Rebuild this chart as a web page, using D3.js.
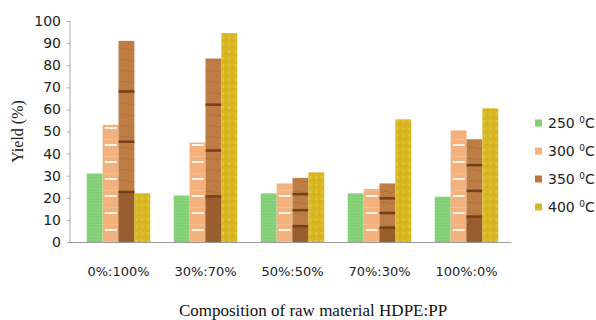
<!DOCTYPE html>
<html>
<head>
<meta charset="utf-8">
<script src="https://cdn.jsdelivr.net/npm/d3@7"></script>
<style>
    body { margin: 0; background: #fff; }
    svg { display: block; }
</style>
</head>
<body>
<div id="chart"></div>
<script>

//******************************************************************************
//**  Data
//******************************************************************************
var categories = ["0%:100%", "30%:70%", "50%:50%", "70%:30%", "100%:0%"];
var series = ["250", "300", "350", "400"];
var yield250 = [31, 21, 22, 22, 20.5];
var yield300 = [53, 45, 26.5, 24, 50.5];
var yield350 = [91, 83, 29, 26.5, 46.5];
var yield400 = [22, 94.5, 31.5, 55.5, 60.5];
var yTicks = [0, 10, 20, 30, 40, 50, 60, 70, 80, 90, 100];

var values = [yield250, yield300, yield350, yield400];


//******************************************************************************
//**  Chart
//******************************************************************************
var width = 596, height = 320;
var margin = {top: 21, right: 86, bottom: 78, left: 75};
var colors = {
    "250": "#82cf76",
    "300": "#f3b27d",
    "350": "#b9773f",
    "400": "#d8b722"
};

var svg = d3.select("#chart").append("svg")
    .attr("width", width)
    .attr("height", height);

var defs = svg.append("defs");

//Green: faint horizontal lines
var pGreen = defs.append("pattern")
    .attr("id", "p250").attr("patternUnits", "userSpaceOnUse")
    .attr("width", 8).attr("height", 3);
pGreen.append("rect").attr("width", 8).attr("height", 3).attr("fill", colors["250"]);
pGreen.append("rect").attr("y", 2).attr("width", 8).attr("height", 1).attr("fill", "#8bd580");

//Peach: white dashes
var pPeach = defs.append("pattern")
    .attr("id", "p300").attr("patternUnits", "userSpaceOnUse")
    .attr("width", 16).attr("height", 17);
pPeach.append("rect").attr("width", 16).attr("height", 17).attr("fill", colors["300"]);
pPeach.append("rect").attr("x", 2).attr("y", 8).attr("width", 12).attr("height", 2).attr("fill", "#fff4ea");
pPeach.append("rect").attr("x", 0).attr("y", 3).attr("width", 16).attr("height", 1).attr("fill", "#f6bc8b");

//Yellow: speckles
var pYellow = defs.append("pattern")
    .attr("id", "p400").attr("patternUnits", "userSpaceOnUse")
    .attr("width", 6).attr("height", 7);
pYellow.append("rect").attr("width", 6).attr("height", 7).attr("fill", colors["400"]);
pYellow.append("rect").attr("x", 1).attr("y", 1).attr("width", 1).attr("height", 3).attr("fill", "#e6cc4e");
pYellow.append("rect").attr("x", 4).attr("y", 4).attr("width", 1).attr("height", 2).attr("fill", "#cca817");

//Brown: soft wood grain
var pBrown = defs.append("pattern")
    .attr("id", "p350").attr("patternUnits", "userSpaceOnUse")
    .attr("width", 16).attr("height", 11);
pBrown.append("rect").attr("width", 16).attr("height", 11).attr("fill", "#bd7d44");
pBrown.append("path").attr("d", "M0,5 Q4,3 8,5 T16,5").attr("fill", "none")
    .attr("stroke", "#a8692f").attr("stroke-width", 0.6);

var x0 = d3.scaleBand()
    .domain(categories)
    .range([margin.left, width - margin.right])
    .paddingInner(0.27)
    .paddingOuter(0.135);

var x1 = d3.scaleBand()
    .domain(series)
    .range([0, x0.bandwidth()]);

var y = d3.scaleLinear()
    .domain([0, 100])
    .range([height - margin.bottom, margin.top]);

var plotLeft = 70, plotRight = width - margin.right;

//Y axis
var yAxis = svg.append("g")
    .attr("transform", "translate(" + plotLeft + ",0)")
    .call(d3.axisLeft(y).tickValues(yTicks).tickSize(3).tickPadding(6));
yAxis.select(".domain").attr("stroke", "#aaa").attr("d", "M0," + y(100) + "V" + y(0));
yAxis.selectAll(".tick line").attr("stroke", "#aaa");
yAxis.selectAll(".tick text")
    .attr("fill", "#222")
    .style("font-family", "'DejaVu Sans', sans-serif")
    .style("font-size", "14px");

//Bars
var groups = svg.append("g").selectAll("g")
    .data(categories)
    .enter().append("g")
    .attr("transform", function(d){ return "translate(" + x0(d) + ",0)"; });

groups.each(function(cat, ci){
    var g = d3.select(this);
    series.forEach(function(s, si){
        var v = values[si][ci];
        g.append("rect")
            .attr("x", x1(s))
            .attr("y", y(v))
            .attr("width", x1.bandwidth())
            .attr("height", y(0) - y(v))
            .attr("fill", "url(#p" + s + ")");

        if (s === "350"){
            //darker lower segment and dark separators at quarters
            g.append("rect")
                .attr("x", x1(s))
                .attr("y", y(v / 4))
                .attr("width", x1.bandwidth())
                .attr("height", y(0) - y(v / 4))
                .attr("fill", "#8a5025")
                .attr("opacity", 0.7);
            [1, 2, 3].forEach(function(k){
                g.append("rect")
                    .attr("x", x1(s))
                    .attr("y", y(v * k / 4) - 1)
                    .attr("width", x1.bandwidth())
                    .attr("height", 2.5)
                    .attr("fill", "#74401a");
            });
        }
    });
});

//X axis line
svg.append("line")
    .attr("x1", plotLeft).attr("x2", plotRight + 1)
    .attr("y1", y(0) + 0.5).attr("y2", y(0) + 0.5)
    .attr("stroke", "#999").attr("stroke-width", 1.2);

//Category labels
svg.append("g").selectAll("text")
    .data(categories)
    .enter().append("text")
    .attr("x", function(d){ return x0(d) + x0.bandwidth() / 2; })
    .attr("y", 276)
    .attr("text-anchor", "middle")
    .attr("fill", "#222")
    .style("font-family", "'DejaVu Sans', sans-serif")
    .style("font-size", "13px")
    .text(function(d){ return d; });

//Axis titles
svg.append("text")
    .attr("transform", "translate(23," + ((y(0) + y(100)) / 2) + ") rotate(-90)")
    .attr("text-anchor", "middle")
    .attr("fill", "#222")
    .style("font-family", "'Liberation Serif', serif")
    .style("font-size", "16px")
    .text("Yield (%)");

svg.append("text")
    .attr("x", 313)
    .attr("y", 316)
    .attr("text-anchor", "middle")
    .attr("fill", "#111")
    .style("font-family", "'Liberation Serif', serif")
    .style("font-size", "17px")
    .text("Composition of raw material HDPE:PP");

//Legend
var legend = svg.append("g").selectAll("g")
    .data(series)
    .enter().append("g")
    .attr("transform", function(d, i){ return "translate(535," + (123 + i * 28) + ")"; });

legend.append("rect")
    .attr("x", 0).attr("y", -3.5)
    .attr("width", 7).attr("height", 7)
    .attr("fill", function(d){ return colors[d]; });

var lt = legend.append("text")
    .attr("x", 13).attr("y", 5)
    .attr("fill", "#222")
    .style("font-family", "'DejaVu Sans', sans-serif")
    .style("font-size", "14px");
lt.append("tspan").text(function(d){ return d + " "; });
lt.append("tspan").attr("dy", -5).style("font-size", "9px").text("0");
lt.append("tspan").attr("dy", 5).text("C");

</script>
</body>
</html>
